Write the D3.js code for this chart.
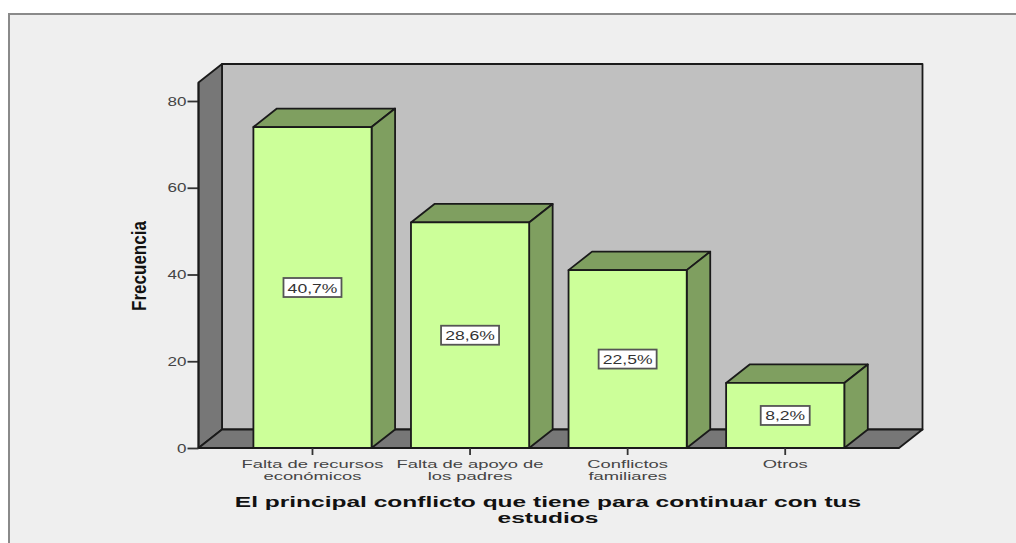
<!DOCTYPE html>
<html>
<head>
<meta charset="utf-8">
<script src="https://cdnjs.cloudflare.com/ajax/libs/d3/7.8.5/d3.min.js"></script>
<style>
  html, body { margin: 0; padding: 0; background: #fff; }
  svg { display: block; }
  text { font-family: "Liberation Sans", sans-serif; }
</style>
</head>
<body>
<svg id="chart"></svg>
<script>
const categories = ['Falta de recursos económicos', 'Falta de apoyo de los padres', 'Conflictos familiares', 'Otros'];
const categoryLines = [['Falta de recursos', 'económicos'], ['Falta de apoyo de', 'los padres'], ['Conflictos', 'familiares'], ['Otros']];
const frequencies = [74, 52, 41, 15];
const percentLabels = ['40,7%', '28,6%', '22,5%', '8,2%'];
const yTicks = [0, 20, 40, 60, 80];
const titleLines = ['El principal conflicto que tiene para continuar con tus', 'estudios'];
const yTitle = 'Frecuencia';

const width = 1016;
const height = 543;
const depth = {x: 23.5, y: 18.5};
const plot = {left: 198.5, right: 899, bottom: 448, top: 82.5};

const svg = d3.select('#chart').attr('width', width).attr('height', height);

const yScale = d3.scaleLinear().domain([0, 80]).range([plot.bottom, 101]);
const xScale = d3.scaleBand()
  .domain(categories)
  .range([233.7, 864])
  .paddingInner(0.25)
  .paddingOuter(0.125);

// stretch text sideways, the original is a wide bitmap font
function stretch(sel, factor) {
  sel.each(function(){
    const len = this.getComputedTextLength();
    d3.select(this).attr('textLength', len * factor).attr('lengthAdjust', 'spacingAndGlyphs');
  });
}

// page panel
svg.append('rect')
  .attr('x', 9).attr('y', 14)
  .attr('width', width + 10).attr('height', height + 10)
  .attr('fill', '#efefef')
  .attr('stroke', '#8a8a8a')
  .attr('stroke-width', 2);

const poly = (pts, fill) => svg.append('polygon')
  .attr('points', pts.map(p => p.join(',')).join(' '))
  .attr('fill', fill)
  .attr('stroke', '#1a1a1a')
  .attr('stroke-width', 1.8)
  .attr('stroke-linejoin', 'round');

// back wall, side wall, floor
poly([[plot.left + depth.x, plot.top - depth.y], [plot.right + depth.x, plot.top - depth.y],
      [plot.right + depth.x, plot.bottom - depth.y], [plot.left + depth.x, plot.bottom - depth.y]], '#c0c0c0');
poly([[plot.left, plot.top], [plot.left + depth.x, plot.top - depth.y],
      [plot.left + depth.x, plot.bottom - depth.y], [plot.left, plot.bottom]], '#777777');
poly([[plot.left, plot.bottom], [plot.left + depth.x, plot.bottom - depth.y],
      [plot.right + depth.x, plot.bottom - depth.y], [plot.right, plot.bottom]], '#777777');

// bars
categories.forEach((cat, i) => {
  const x0 = xScale(cat);
  const x1 = x0 + xScale.bandwidth();
  const yTop = yScale(frequencies[i]);
  poly([[x0, yTop], [x0 + depth.x, yTop - depth.y], [x1 + depth.x, yTop - depth.y], [x1, yTop]], '#7f9f60');
  poly([[x1, yTop], [x1 + depth.x, yTop - depth.y], [x1 + depth.x, plot.bottom - depth.y], [x1, plot.bottom]], '#7f9f60');
  poly([[x0, yTop], [x1, yTop], [x1, plot.bottom], [x0, plot.bottom]], '#ccff99');
});

// axes
const yAxis = svg.append('g')
  .attr('transform', `translate(${plot.left},0)`)
  .call(d3.axisLeft(yScale).tickValues(yTicks).tickSize(11).tickPadding(1));
yAxis.select('.domain').remove();
yAxis.selectAll('line').attr('stroke', '#333').attr('stroke-width', 1.8);
yAxis.selectAll('text')
  .attr('font-size', 12.5)
  .attr('font-family', '"Liberation Sans", sans-serif')
  .attr('fill', '#444')
  .call(stretch, 1.36);

svg.append('line')
  .attr('x1', plot.left).attr('x2', plot.left)
  .attr('y1', plot.top).attr('y2', plot.bottom)
  .attr('stroke', '#1a1a1a').attr('stroke-width', 1.8);

const xTicks = svg.append('g').selectAll('g')
  .data(categories)
  .join('g')
  .attr('transform', d => `translate(${xScale(d) + xScale.bandwidth() / 2},${plot.bottom})`);

xTicks.append('line')
  .attr('y2', 7)
  .attr('stroke', '#333')
  .attr('stroke-width', 1.8);

xTicks.each(function(d, i){
  d3.select(this).selectAll('text')
    .data(categoryLines[i])
    .join('text')
    .attr('text-anchor', 'middle')
    .attr('y', (l, j) => 19.5 + j * 12.5)
    .attr('font-size', 10.8)
    .attr('fill', '#444')
    .text(l => l)
    .call(stretch, 1.7);
});

// percent boxes
const boxes = svg.append('g').selectAll('g')
  .data(categories)
  .join('g')
  .attr('transform', (d, i) => `translate(${xScale(d) + xScale.bandwidth() / 2},${(yScale(frequencies[i]) + plot.bottom) / 2})`);

boxes.append('rect')
  .attr('fill', '#fff')
  .attr('stroke', '#555')
  .attr('stroke-width', 1.8)
  .attr('y', -9.5)
  .attr('height', 19)
  .attr('x', (d, i) => i === 3 ? -24.5 : -29)
  .attr('width', (d, i) => i === 3 ? 49 : 58);

boxes.append('text')
  .attr('text-anchor', 'middle')
  .attr('y', 5)
  .attr('font-size', 13.5)
  .attr('fill', '#333')
  .text((d, i) => percentLabels[i])
  .call(stretch, 1.3);

// axis titles
svg.append('g').selectAll('text')
  .data(titleLines)
  .join('text')
  .attr('x', 548)
  .attr('y', (d, i) => 506.5 + i * 16.5)
  .attr('text-anchor', 'middle')
  .attr('font-size', 14.5)
  .attr('font-weight', 'bold')
  .attr('fill', '#111')
  .text(d => d)
  .call(stretch, 1.69);

svg.append('text')
  .attr('transform', 'translate(146,266) rotate(-90)')
  .attr('text-anchor', 'middle')
  .attr('font-size', 20)
  .attr('font-weight', 'bold')
  .attr('fill', '#111')
  .text(yTitle)
  .call(stretch, 0.85);
</script>
</body>
</html>
